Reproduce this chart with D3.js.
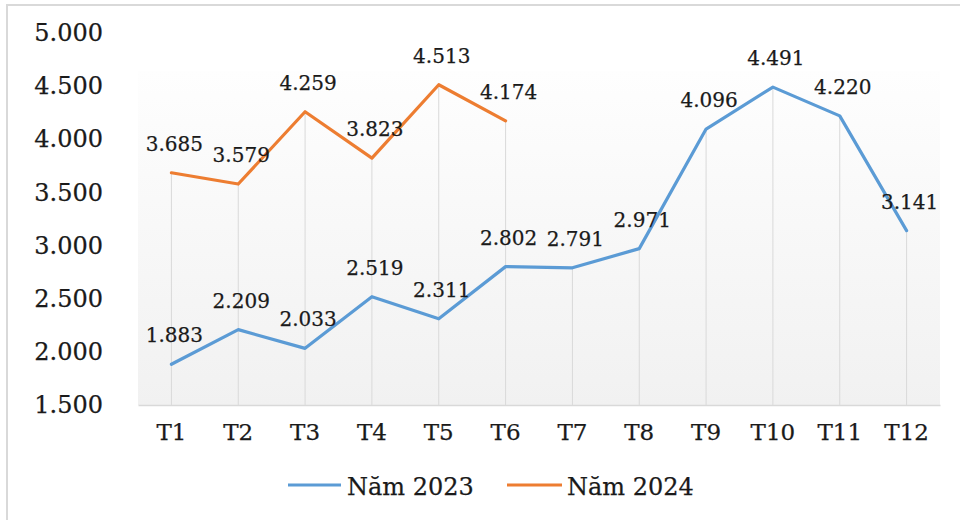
<!DOCTYPE html>
<html>
<head>
<meta charset="utf-8">
<script src="https://cdn.jsdelivr.net/npm/d3@7"></script>
<style>
  html, body { margin: 0; padding: 0; background: #fff; }
  svg { display: block; }
  text { font-family: "DejaVu Serif", "Liberation Serif", serif; fill: #1a1a1a; stroke: #1a1a1a; stroke-width: 0.25px; }
</style>
</head>
<body>
<svg id="chart" width="960" height="520"></svg>
<script>
const categories = ["T1","T2","T3","T4","T5","T6","T7","T8","T9","T10","T11","T12"];
const values2023 = [1883, 2209, 2033, 2519, 2311, 2802, 2791, 2971, 4096, 4491, 4220, 3141];
const values2024 = [3685, 3579, 4259, 3823, 4513, 4174];
const seriesNames = ["Năm 2023", "Năm 2024"];
const yTicks = [1500, 2000, 2500, 3000, 3500, 4000, 4500, 5000];

const svg = d3.select("#chart");
const plot = { left: 138, right: 940, top: 71, bottom: 405 };

const fmt = d3.formatLocale({ decimal: ",", thousands: ".", grouping: [3], currency: ["", ""] }).format(",");

// outer border
svg.append("rect").attr("x", 7).attr("y", 5).attr("width", 970).attr("height", 530)
  .attr("fill", "#fff").attr("stroke", "#d9d9d9").attr("stroke-width", 2);

// gradient plot area
const defs = svg.append("defs");
const grad = defs.append("linearGradient").attr("id", "bg").attr("x1", 0).attr("y1", 0).attr("x2", 0).attr("y2", 1);
grad.append("stop").attr("offset", "0%").attr("stop-color", "#fefefe");
grad.append("stop").attr("offset", "100%").attr("stop-color", "#f1f1f1");
svg.append("rect").attr("x", plot.left).attr("y", plot.top)
  .attr("width", plot.right - plot.left).attr("height", plot.bottom - plot.top)
  .attr("fill", "url(#bg)");

const x = d3.scaleBand().domain(categories).range([plot.left, plot.right]).padding(0);
const cx = c => x(c) + x.bandwidth() / 2;
const y = d3.scaleLinear().domain([1500, 5000]).range([405, 33]);

// drop lines
categories.forEach((c, i) => {
  const vals = [values2023[i], values2024[i]].filter(v => v != null);
  const top = d3.max(vals);
  svg.append("line").attr("x1", cx(c)).attr("x2", cx(c))
    .attr("y1", y(top)).attr("y2", plot.bottom)
    .attr("stroke", "#d9d9d9").attr("stroke-width", 1);
});

// x axis
const xAxis = svg.append("g").attr("transform", `translate(0,${plot.bottom})`)
  .call(d3.axisBottom(x).tickSize(0).tickPadding(19));
xAxis.select(".domain").attr("stroke", "#d9d9d9").attr("stroke-width", 1.5);
xAxis.selectAll("text").attr("font-size", 23).attr("font-family", "DejaVu Serif").attr("fill", "#1a1a1a");

// y axis
const yAxis = svg.append("g").attr("transform", `translate(103,0)`)
  .call(d3.axisLeft(y).tickValues(yTicks).tickSize(0).tickPadding(0).tickFormat(fmt));
yAxis.select(".domain").remove();
yAxis.selectAll("text").attr("font-size", 24).attr("font-family", "DejaVu Serif").attr("fill", "#1a1a1a");

const colors = ["#5b9bd5", "#ed7d31"];
const line = d3.line().x((d, i) => cx(categories[i])).y(d => y(d));

[values2023, values2024].forEach((vals, s) => {
  svg.append("path").datum(vals).attr("d", line)
    .attr("fill", "none").attr("stroke", colors[s]).attr("stroke-width", 3.2)
    .attr("stroke-linejoin", "round").attr("stroke-linecap", "round");
});

[values2023, values2024].forEach((vals, s) => {
  svg.append("g").selectAll("text").data(vals).join("text")
    .attr("x", (d, i) => cx(categories[i]) + 3)
    .attr("y", d => y(d) - 22)
    .attr("text-anchor", "middle")
    .attr("font-size", 20)
    .text(d => fmt(d));
});

// legend
const legendItems = [
  { name: seriesNames[0], color: colors[0], x1: 288, x2: 341, tx: 347 },
  { name: seriesNames[1], color: colors[1], x1: 507, x2: 562, tx: 567 }
];
legendItems.forEach(l => {
  svg.append("line").attr("x1", l.x1).attr("x2", l.x2).attr("y1", 485).attr("y2", 485)
    .attr("stroke", l.color).attr("stroke-width", 3.2);
  svg.append("text").attr("x", l.tx).attr("y", 495).attr("font-size", 24).text(l.name);
});
</script>
</body>
</html>
